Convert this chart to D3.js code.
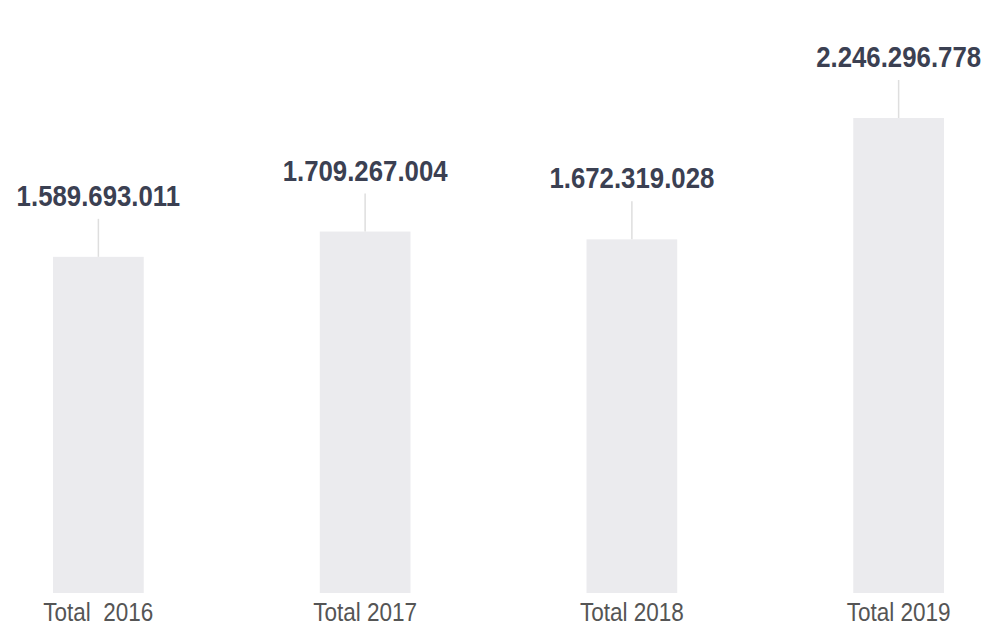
<!DOCTYPE html>
<html>
<head>
<meta charset="utf-8">
<script src="https://cdn.jsdelivr.net/npm/d3@7"></script>
<style>
  body { margin: 0; background: #fff; }
  .chart svg { display: block; }
</style>
</head>
<body>
<div class="chart"></div>
<script>
const w = 989;
const h = 644;

// data
const years = ['2016', '2017', '2018', '2019'];
const tickLabels = ['Total  2016', 'Total 2017', 'Total 2018', 'Total 2019'];
const totals = [1589693011, 1709267004, 1672319028, 2246296778];

const baseY = 593;
const topY = 118;

const fmt = d3.formatLocale({ decimal: ',', thousands: '.', grouping: [3], currency: ['', ''] }).format(',d');

const svg = d3.select('.chart')
  .append('svg')
  .attr('width', w)
  .attr('height', h);

// xScale
const xScale = d3.scaleBand()
  .domain(years)
  .range([-35, 1032])
  .paddingInner(0.66)
  .paddingOuter(0.33);

// yScale
const yScale = d3.scaleLinear()
  .domain([0, d3.max(totals)])
  .range([baseY, topY]);

const cx = (d) => xScale(d) + xScale.bandwidth() / 2;

// bars
svg.selectAll('rect.bar')
  .data(years)
  .enter()
  .append('rect')
  .attr('class', 'bar')
  .attr('x', (d) => xScale(d))
  .attr('y', (d, i) => yScale(totals[i]))
  .attr('width', xScale.bandwidth())
  .attr('height', (d, i) => baseY - yScale(totals[i]))
  .attr('fill', '#ebebee');

// leader lines
svg.selectAll('line.lead')
  .data(years)
  .enter()
  .append('line')
  .attr('class', 'lead')
  .attr('x1', cx)
  .attr('x2', cx)
  .attr('y1', (d, i) => yScale(totals[i]) - 38)
  .attr('y2', (d, i) => yScale(totals[i]))
  .attr('stroke', '#dedede')
  .attr('stroke-width', 1.5);

// value labels, squeezed horizontally for the narrow look
svg.selectAll('g.val')
  .data(years)
  .enter()
  .append('g')
  .attr('class', 'val')
  .attr('transform', (d, i) => `translate(${cx(d)},${yScale(totals[i]) - 51}) scale(0.86,1)`)
  .append('text')
  .attr('text-anchor', 'middle')
  .attr('font-family', '"Liberation Sans", Arial, sans-serif')
  .attr('font-weight', 'bold')
  .attr('font-size', 30)
  .attr('fill', '#3b4052')
  .text((d, i) => fmt(totals[i]));

// Bottom axis
const xAxis = d3.axisBottom(xScale)
  .tickSize(0)
  .tickFormat((d, i) => tickLabels[i]);

const gx = svg.append('g')
  .attr('transform', `translate(0,${baseY + 4})`)
  .call(xAxis);
gx.select('.domain').remove();
gx.selectAll('text')
  .attr('dy', '0.71em')
  .attr('y', 6)
  .attr('font-family', '"Liberation Sans", Arial, sans-serif')
  .attr('font-size', 26)
  .attr('textLength', (d, i) => (i === 0 ? 110 : 104))
  .attr('lengthAdjust', 'spacingAndGlyphs')
  .attr('fill', '#555')
  .style('white-space', 'pre');
</script>
</body>
</html>
